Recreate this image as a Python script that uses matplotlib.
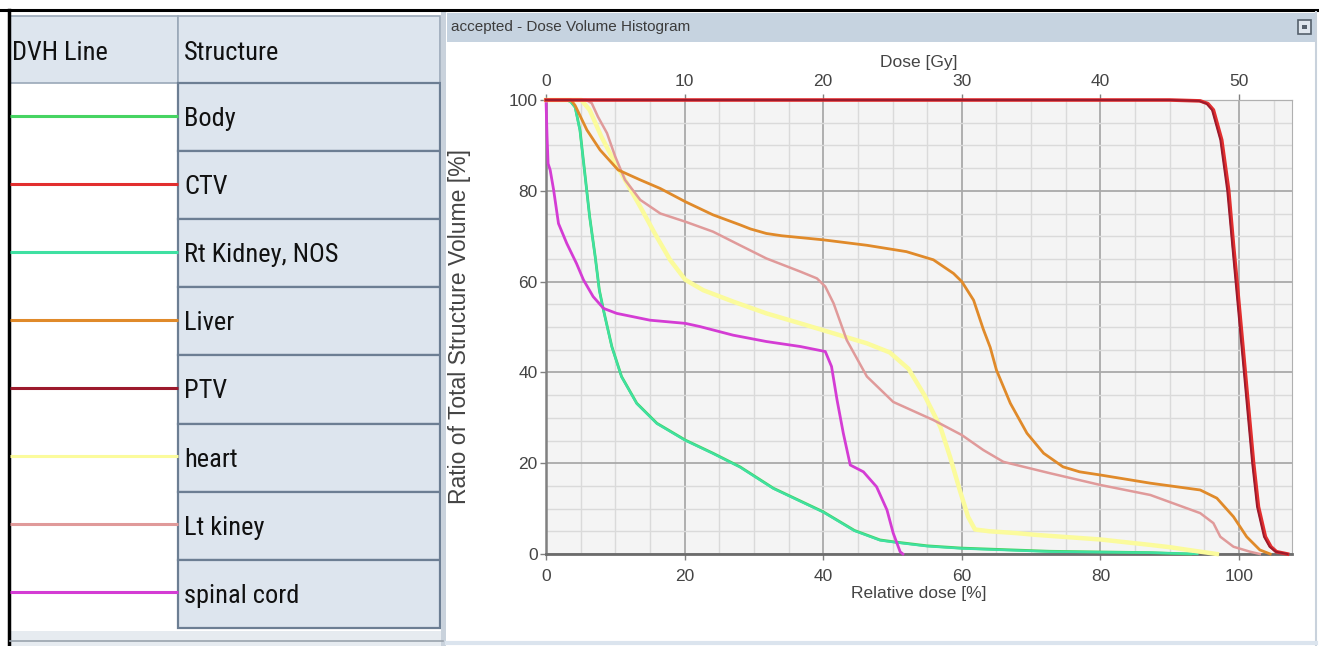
import numpy as np
import matplotlib
matplotlib.use("Agg")
import matplotlib.pyplot as plt
from matplotlib import font_manager as fm
from matplotlib.patches import Rectangle

plt.rcParams['font.family'] = ['Liberation Sans', 'DejaVu Sans']

# structures, in table order
structures = ['Body', 'CTV', 'Rt Kidney, NOS', 'Liver', 'PTV', 'heart', 'Lt kiney', 'spinal cord']
colors = ['#46d462', '#e22e2e', '#3fe0a2', '#e08a2a', '#9c1a2c', '#fbfb9c', '#e09a9a', '#d43cd4']
widths = [2.0, 2.6, 1.6, 2.0, 1.4, 3.2, 1.8, 2.0]

# DVH curves: relative dose [%] vs volume [%]
body_dose = [0, 3.0, 3.6, 4.2, 4.9, 5.6, 6.3, 7.1, 7.7, 8.3, 9.5, 10.9, 13.1, 16.0, 20.1, 24.1, 28.0,
             32.8, 40.0, 44.5, 48.2, 50.1, 55.0, 60.0, 72.7, 87.2, 93.0]
body_vol = [100, 100, 99.6, 98.5, 93.4, 83.9, 74.3, 65.5, 58.1, 53.7, 45.7, 39.1, 33.2, 28.8, 25.1, 22.2,
            19.2, 14.5, 9.3, 5.2, 3.1, 2.7, 1.8, 1.3, 0.6, 0.3, 0]

kidney_dose = [0, 3.0, 3.6, 4.2, 4.9, 5.6, 6.3, 7.1, 7.7, 8.3, 9.5, 10.9, 13.1, 16.0, 20.1, 24.1, 28.0,
               32.8, 40.0, 44.5, 48.2, 50.1, 55.0, 60.0, 72.7, 87.2, 94.0]
kidney_vol = [100, 100, 99.5, 98.3, 93.2, 83.7, 74.2, 65.4, 58.0, 53.6, 45.6, 39.0, 33.1, 28.7, 25.0,
              22.1, 19.1, 14.4, 9.2, 5.1, 3.0, 2.6, 1.7, 1.2, 0.5, 0.3, 0]

ctv_dose = [0, 90.0, 94.4, 95.5, 96.3, 97.5, 98.5, 99.2, 99.7, 100.9, 101.5, 102.1, 102.8, 103.8,
            104.6, 105.4, 107.0]
ctv_vol = [100, 100, 99.8, 99.2, 97.8, 91.2, 80.2, 68.0, 60.0, 40.0, 30.0, 20.0, 10.4, 3.8, 1.6, 0.5, 0]

ptv_dose = [0, 90.0, 94.2, 95.3, 96.1, 97.3, 98.3, 99.5, 100.7, 101.3, 101.9, 102.6, 103.6, 104.4,
            105.3, 107.0]
ptv_vol = [100, 100, 99.8, 99.2, 97.8, 91.2, 80.0, 60.0, 40.0, 30.0, 20.0, 10.4, 3.8, 1.6, 0.5, 0]

liver_dose = [0, 3.6, 4.2, 5.9, 7.8, 10.4, 13.6, 16.5, 20.1, 24.1, 28.0, 29.5, 31.8, 34.0, 36.0, 40.0,
              46.3, 52.0, 55.9, 58.8, 60.0, 61.7, 63.1, 64.1, 65.0, 67.0, 69.4, 71.8, 74.6, 77.0, 80.0,
              87.2, 92.0, 94.4, 96.8, 99.2, 101.1, 103.0, 104.5]
liver_vol = [100, 100, 98.8, 93.4, 89.0, 84.6, 82.4, 80.5, 77.6, 74.7, 72.5, 71.6, 70.6, 70.1, 69.8,
             69.2, 68.0, 66.6, 64.8, 61.8, 60.0, 55.9, 49.5, 45.5, 40.5, 33.2, 26.6, 22.2, 19.2, 18.1,
             17.4, 15.6, 14.6, 14.1, 12.3, 8.2, 3.8, 0.9, 0]

heart_dose = [0, 5.1, 6.3, 8.0, 9.5, 11.4, 13.6, 15.7, 17.9, 20.1, 22.7, 27.0, 31.8, 36.7, 41.5, 46.3,
              49.6, 52.3, 54.6, 56.9, 58.3, 59.7, 60.9, 61.9, 64.0, 67.9, 70.8, 80.0, 87.2, 90.0, 94.0,
              96.8]
heart_vol = [100, 100, 97.8, 91.9, 87.5, 82.4, 76.5, 70.6, 64.8, 60.4, 58.1, 55.6, 53.0, 50.8, 48.6,
             46.4, 44.4, 40.8, 35.0, 28.0, 21.4, 14.1, 8.2, 5.4, 5.0, 4.6, 4.2, 3.2, 2.0, 1.5, 0.6, 0]

ltk_dose = [0, 5.8, 6.6, 7.5, 8.8, 10.0, 11.4, 13.6, 16.5, 20.1, 24.1, 28.0, 31.8, 36.7, 39.1, 40.3,
            41.5, 43.4, 46.3, 50.1, 55.9, 60.0, 63.1, 66.0, 72.7, 80.0, 87.2, 94.4, 96.3, 97.3, 99.2,
            101.6, 103.0]
ltk_vol = [100, 100, 99.3, 96.3, 92.7, 87.5, 82.4, 78.0, 75.0, 73.2, 71.0, 68.0, 65.1, 62.2, 60.7, 58.9,
           55.2, 47.1, 39.1, 33.5, 29.5, 26.2, 22.9, 20.3, 17.8, 15.2, 13.0, 9.0, 6.8, 3.8, 1.6, 0.5, 0]

cord_dose = [0, 0.15, 0.3, 0.6, 1.1, 1.8, 3.0, 4.4, 5.4, 6.8, 8.3, 10.2, 15.0, 20.1, 22.2, 27.0, 31.8,
             36.7, 40.3, 41.2, 42.0, 42.9, 43.9, 45.8, 47.7, 49.2, 50.1, 51.1, 51.5]
cord_vol = [100, 92.0, 86.0, 84.6, 80.2, 72.8, 68.4, 64.0, 60.4, 56.7, 54.1, 53.0, 51.5, 50.8, 50.1,
            48.2, 46.8, 45.7, 44.6, 41.3, 33.9, 26.6, 19.6, 18.1, 14.8, 9.7, 4.6, 0.5, 0]

curves = {
    'Body': (body_dose, body_vol),
    'CTV': (ctv_dose, ctv_vol),
    'Rt Kidney, NOS': (kidney_dose, kidney_vol),
    'Liver': (liver_dose, liver_vol),
    'PTV': (ptv_dose, ptv_vol),
    'heart': (heart_dose, heart_vol),
    'Lt kiney': (ltk_dose, ltk_vol),
    'spinal cord': (cord_dose, cord_vol),
}
draw_order = ['Body', 'Rt Kidney, NOS', 'spinal cord', 'heart', 'Lt kiney', 'Liver', 'CTV', 'PTV']

rel_ticks = [0, 20, 40, 60, 80, 100]
gy_ticks = [0, 10, 20, 30, 40, 50]
vol_ticks = [0, 20, 40, 60, 80, 100]
prescription_gy = 50.0

# the table uses a narrow font if one is installed
installed = {f.name for f in fm.fontManager.ttflist}
table_font, table_size = ['Liberation Sans'], 16
for cand in ['Liberation Sans Narrow', 'Roboto Condensed', 'Open Sans Condensed']:
    if cand in installed:
        table_font, table_size = [cand, 'Liberation Sans'], 19
        break

W, H = 1319, 646
fig = plt.figure(figsize=(W / 100, H / 100), dpi=100)

# screen chrome drawn in pixel coordinates
bg = fig.add_axes([0, 0, 1, 1])
bg.set_xlim(0, W)
bg.set_ylim(H, 0)
bg.axis('off')

bg.plot([0, W], [10, 10], color='black', lw=2.2)
bg.plot([9, 9], [10, H], color='black', lw=2.5)

# table
cell_face = '#dde5ee'
cell_edge = '#6c7e93'
col1_x, col2_x, col_end = 10, 178, 440
head_top, head_bot = 16, 83
row_h = 68.1
bg.add_patch(Rectangle((col1_x, head_top), col2_x - col1_x, head_bot - head_top,
                       facecolor=cell_face, edgecolor='#9aa8b8', lw=1.2))
bg.add_patch(Rectangle((col2_x, head_top), col_end - col2_x, head_bot - head_top,
                       facecolor=cell_face, edgecolor='#9aa8b8', lw=1.2))
bg.text(12, 53, 'DVH Line', fontsize=table_size, family=table_font, color='#111',
        va='center', ha='left')
bg.text(184, 53, 'Structure', fontsize=table_size, family=table_font, color='#111',
        va='center', ha='left')
for i, (name, col) in enumerate(zip(structures, colors)):
    top = head_bot + i * row_h
    bg.add_patch(Rectangle((col2_x, top), col_end - col2_x, row_h,
                           facecolor=cell_face, edgecolor=cell_edge, lw=1.6))
    bg.plot([col1_x, col2_x], [top + row_h / 2 - 1.5] * 2, color=col, lw=2.2,
            solid_capstyle='butt')
    bg.text(184, top + row_h / 2 + 2, name, fontsize=table_size, family=table_font, color='#111',
            va='center', ha='left')
table_bot = head_bot + len(structures) * row_h
bg.add_patch(Rectangle((col1_x, table_bot + 3), col_end - col1_x + 3, H - table_bot - 3,
                       facecolor='#e6ebf0', lw=0))
bg.plot([col1_x, col_end + 3], [641, 641], color='#9aa3ad', lw=1.2)
bg.add_patch(Rectangle((441, 12), 5, H - 12, facecolor='#c9d2dc', lw=0))

# right panel title bar
bg.add_patch(Rectangle((447, 13), 1315 - 447, 29, facecolor='#c6d3e0', lw=0))
bg.text(451, 27.5, 'accepted - Dose Volume Histogram', fontsize=11, color='#3c3c3c',
        va='center', ha='left')
bg.add_patch(Rectangle((1298, 20), 13, 14, facecolor='#dfe6ee', edgecolor='#55606c', lw=1.2))
bg.add_patch(Rectangle((1302, 25), 5, 4, facecolor='#55606c', lw=0))
bg.plot([1316, 1316], [12, H], color='#c9d2dc', lw=1.5)
bg.plot([447, 1316], [643, 643], color='#dbe4ee', lw=3)

# DVH plot
ax = fig.add_axes([546 / W, 1 - 554 / H, (1291.7 - 546) / W, (554 - 100) / H])
ax.set_facecolor('#f4f4f4')
for name in draw_order:
    i = structures.index(name)
    d, v = curves[name]
    ax.plot(d, v, color=colors[i], lw=widths[i], clip_on=False, zorder=3,
            solid_joinstyle='round')

ax.set_xlim(0, 107.6)
ax.set_ylim(0, 100)
ax.set_xticks(rel_ticks)
ax.set_yticks(vol_ticks)
ax.set_xticks(np.arange(0, 107.6, 5), minor=True)
ax.set_yticks(np.arange(0, 101, 5), minor=True)
ax.grid(which='minor', color='#dadada', lw=1.0)
ax.grid(which='major', color='#a9a9a9', lw=1.3)
ax.set_axisbelow(True)
ax.tick_params(which='minor', length=0)
ax.tick_params(which='major', length=4, width=1, color='#808080', labelsize=12.5,
               labelcolor='#444444', pad=2)
ax.tick_params(axis='x', which='major', pad=7)
ax.spines['left'].set_color('#808080')
ax.spines['left'].set_linewidth(1.8)
ax.spines['bottom'].set_color('#6c6c6c')
ax.spines['bottom'].set_linewidth(2.0)
ax.spines['right'].set_color('#b0b0b0')
ax.spines['top'].set_color('#b0b0b0')
ax.set_xlabel('Relative dose [%]', fontsize=12.5, color='#444444', labelpad=1)
ax.set_ylabel('Ratio of Total Structure Volume [%]', fontsize=16.5, color='#444444')
ax.yaxis.set_label_coords(-0.100, 0.5)

sec = ax.secondary_xaxis('top', functions=(lambda r: r * prescription_gy / 100,
                                           lambda g: g * 100 / prescription_gy))
sec.set_xticks(gy_ticks)
sec.tick_params(length=4, width=1, color='#808080', labelsize=12.5, labelcolor='#444444', pad=4)
sec.spines['top'].set_color('#b0b0b0')
sec.set_xlabel('Dose [Gy]', fontsize=12.5, color='#444444', labelpad=5)

fig.savefig('out.png', dpi=100)
